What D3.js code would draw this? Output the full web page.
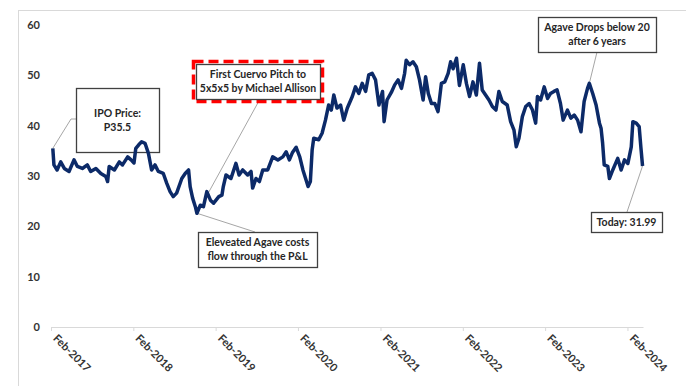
<!DOCTYPE html>
<html>
<head>
<meta charset="utf-8">
<script src="https://cdn.jsdelivr.net/npm/d3@7"></script>
<style>
  body { margin: 0; background: #fff; }
  svg { display: block; font-family: Lato, "Open Sans", sans-serif; }
</style>
</head>
<body>
<svg id="chart" width="686" height="386"></svg>
<script>
// price series (approx.)
var dates = ["2017-02-09","2017-02-14","2017-02-28","2017-03-16","2017-04-01","2017-04-22","2017-05-14","2017-05-29","2017-06-20","2017-07-12",
  "2017-07-27","2017-08-19","2017-09-10","2017-10-02","2017-10-10","2017-10-17","2017-11-09","2017-12-01","2017-12-15","2018-01-07",
  "2018-01-22","2018-02-04","2018-02-12","2018-02-25","2018-03-10","2018-03-25","2018-04-09","2018-04-23","2018-05-08","2018-05-23",
  "2018-06-14","2018-06-29","2018-07-14","2018-07-28","2018-08-12","2018-09-04","2018-09-19","2018-10-04","2018-10-11","2018-10-22",
  "2018-11-03","2018-11-10","2018-11-25","2018-12-09","2018-12-24","2019-01-09","2019-01-23","2019-02-15","2019-03-01","2019-03-07",
  "2019-03-19","2019-04-10","2019-05-02","2019-05-16","2019-06-01","2019-06-23","2019-07-08","2019-07-15","2019-07-30","2019-08-14",
  "2019-08-29","2019-09-20","2019-10-12","2019-11-04","2019-11-26","2019-12-11","2019-12-25","2020-01-07","2020-01-24","2020-02-09",
  "2020-02-23","2020-03-08","2020-03-17","2020-03-27","2020-04-04","2020-04-11","2020-05-03","2020-05-18","2020-06-02","2020-06-16",
  "2020-06-28","2020-07-09","2020-07-23","2020-08-08","2020-08-22","2020-09-07","2020-09-29","2020-10-13","2020-10-28","2020-11-12",
  "2020-11-27","2020-12-11","2020-12-26","2021-01-10","2021-01-25","2021-02-10","2021-02-17","2021-03-02","2021-03-21","2021-04-05",
  "2021-04-20","2021-05-05","2021-05-19","2021-05-26","2021-06-10","2021-06-25","2021-07-10","2021-07-24","2021-08-09","2021-08-20",
  "2021-09-01","2021-09-15","2021-09-30","2021-10-14","2021-10-29","2021-11-13","2021-11-28","2021-12-09","2021-12-20","2022-01-04",
  "2022-01-17","2022-02-03","2022-02-17","2022-03-03","2022-03-18","2022-04-02","2022-04-16","2022-04-28","2022-05-13","2022-05-28",
  "2022-06-12","2022-06-28","2022-07-11","2022-07-26","2022-08-17","2022-09-01","2022-09-16","2022-09-26","2022-10-08","2022-10-23",
  "2022-11-07","2022-11-22","2022-12-07","2022-12-21","2022-12-29","2023-01-12","2023-01-28","2023-02-12","2023-02-25","2023-03-12",
  "2023-03-26","2023-04-10","2023-04-22","2023-05-11","2023-05-26","2023-06-10","2023-06-25","2023-07-10","2023-07-24","2023-08-08",
  "2023-08-16","2023-08-31","2023-09-15","2023-09-30","2023-10-07","2023-10-14","2023-10-21","2023-11-06","2023-11-13","2023-11-28",
  "2023-12-20","2024-01-04","2024-01-19","2024-02-03","2024-02-18","2024-02-25","2024-03-11","2024-03-24","2024-04-01","2024-04-08"];
var prices = [35.5,32.2,31.2,32.8,31.5,30.9,33.2,31.9,31.5,32.2,
  30.9,31.5,30.5,29.9,28.9,31.9,31.2,32.8,32.2,33.8,
  33.2,32.6,35.5,36.2,36.8,36.5,34.5,31.2,32.2,30.9,
  30.5,28.6,26.9,25.9,26.6,29.5,30.5,31.2,27.9,25.6,
  23.9,22.6,24.2,23.9,26.9,25.2,24.6,25.9,26.2,27.9,
  30.2,29.5,32.5,30.2,31.2,30.2,30.9,27.6,29.5,28.9,
  31.2,31.2,33.8,33.2,33.8,34.8,33.2,34.6,35.7,33.8,
  31.2,29.2,27.9,28.9,35.2,37.5,37.2,38.5,41.1,44.1,
  43.1,46.1,43.5,44.1,41.1,43.5,45.8,47.7,46.4,48.4,
  46.8,50.1,50.4,49.1,44.1,46.8,40.8,45.1,46.6,48.1,
  49.1,47.4,50.4,53.0,52.1,52.7,51.7,49.1,45.1,49.7,
  46.4,44.4,44.4,42.8,48.4,48.7,50.4,52.7,51.3,53.4,
  48.0,52.1,48.4,45.8,48.7,46.1,52.4,47.1,46.1,45.1,
  43.8,43.1,46.8,44.8,44.1,40.8,39.1,35.8,37.5,41.8,
  43.8,44.4,43.1,40.5,45.8,45.1,47.7,45.4,46.4,46.8,
  47.1,44.4,41.1,43.1,41.5,42.1,41.1,38.8,44.8,47.4,
  48.4,46.4,44.1,40.5,39.5,36.5,32.2,31.9,29.5,31.2,
  33.5,31.2,33.2,32.5,35.8,40.8,40.5,39.8,35.5,31.99];

var yTicks = [0, 10, 20, 30, 40, 50, 60];
var xTickYears = [2017, 2018, 2019, 2020, 2021, 2022, 2023, 2024];

var svg = d3.select("#chart");
var parse = d3.timeParse("%Y-%m-%d");
var data = dates.map(function(d, i) { return { date: parse(d), value: prices[i] }; });

var x = d3.scaleTime()
  .domain([new Date(2017, 1, 1), new Date(2024, 3, 10)])
  .range([51, 643]);
var y = d3.scaleLinear().domain([0, 60]).range([327, 25]);

// outer chart frame
svg.append("rect")
  .attr("x", 18.5).attr("y", 10.5)
  .attr("width", 720).attr("height", 400)
  .attr("fill", "none").attr("stroke", "#d9d9d9");

// y labels (no axis line)
svg.append("g")
  .selectAll("text")
  .data(yTicks)
  .enter().append("text")
  .attr("x", 40)
  .attr("y", function(d) { return y(d); })
  .attr("dy", "0.35em")
  .attr("text-anchor", "end")
  .attr("font-size", 11)
  .attr("font-weight", "bold")
  .attr("fill", "#333")
  .text(function(d) { return d; });

// x axis
var xAxis = d3.axisBottom(x)
  .tickValues(xTickYears.map(function(yr) { return new Date(yr, 1, 1); }))
  .tickFormat(d3.timeFormat("%b-%Y"))
  .tickSize(4)
  .tickSizeOuter(0);

var gx = svg.append("g")
  .attr("transform", "translate(0," + y(0) + ")")
  .call(xAxis);
gx.select(".domain").attr("stroke", "#d9d9d9");
gx.selectAll(".tick line").attr("stroke", "#d9d9d9");
gx.selectAll(".tick text")
  .attr("font-family", "Lato, sans-serif")
  .attr("font-size", 11)
  .attr("font-weight", "bold")
  .attr("fill", "#333")
  .attr("text-anchor", "start")
  .attr("dy", null)
  .attr("y", 0)
  .attr("transform", "translate(1,12) rotate(45)");

// annotations: leaders and boxes sit under the price line
var first = data[0], last = data[data.length - 1];
var notes = [
  { lines: ["IPO Price:", "P35.5"], box: [76, 88, 83, 64],
    leader: [[76, 119], [71, 119], [x(first.date), y(first.value)]] },
  { lines: ["First Cuervo Pitch to", "5x5x5 by Michael Allison"], box: [196, 64, 124, 35], dashed: true,
    leader: [[260, 99], [x(parse("2018-12-24")), y(26.1)]] },
  { lines: ["Eleveated Agave costs", "flow through the P&L"], box: [198, 232, 119, 35],
    leader: [[255, 232], [x(parse("2018-11-10")), y(22.6)]] },
  { lines: ["Agave Drops below 20", "after 6 years"], box: [538, 17, 118, 35],
    leader: [[597, 52], [x(parse("2023-08-16")), y(48.4)]] },
  { lines: ["Today: 31.99"], box: [591, 212, 71, 20],
    leader: [[627, 212], [x(last.date), y(last.value)]] }
];

var g = svg.append("g");
notes.forEach(function(n) {
  g.append("path")
    .attr("d", d3.line()(n.leader))
    .attr("fill", "none")
    .attr("stroke", "#a6a6a6")
    .attr("stroke-width", 1);
  if (n.dashed) {
    g.append("rect")
      .attr("x", n.box[0] - 2.5).attr("y", n.box[1] - 2.5)
      .attr("width", n.box[2] + 5).attr("height", n.box[3] + 5)
      .attr("fill", "#fff")
      .attr("stroke", "#ff0000")
      .attr("stroke-width", 3.5)
      .attr("stroke-dasharray", "10,5");
  }
  g.append("rect")
    .attr("x", n.box[0] + 0.5).attr("y", n.box[1] + 0.5)
    .attr("width", n.box[2]).attr("height", n.box[3])
    .attr("fill", "#fff")
    .attr("stroke", "#404040")
    .attr("stroke-width", 1.3);
  var cy = n.box[1] + n.box[3] / 2;
  var lh = 14;
  n.lines.forEach(function(t, i) {
    g.append("text")
      .attr("x", n.box[0] + n.box[2] / 2)
      .attr("y", cy + (i - (n.lines.length - 1) / 2) * lh)
      .attr("dy", "0.35em")
      .attr("text-anchor", "middle")
      .attr("font-size", 10.5)
      .attr("font-weight", "bold")
      .attr("fill", "#262626")
      .text(t);
  });
});

// price line
var line = d3.line()
  .x(function(d) { return x(d.date); })
  .y(function(d) { return y(d.value); });

svg.append("path")
  .datum(data)
  .attr("fill", "none")
  .attr("stroke", "#0c2a68")
  .attr("stroke-width", 3.5)
  .attr("stroke-linejoin", "round")
  .attr("d", line);
</script>
</body>
</html>
